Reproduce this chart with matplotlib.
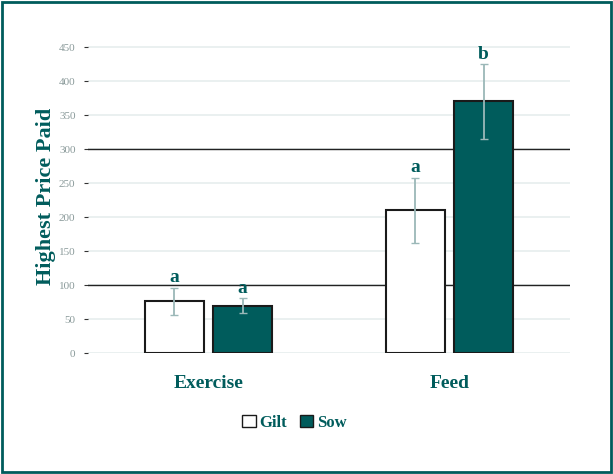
import matplotlib
matplotlib.use("Agg")
from matplotlib import pyplot as plt
from matplotlib.patches import Rectangle

groups = ["Exercise", "Feed"]
gilt = [76, 210]
sow = [70, 370]
gilt_err = [20, 48]
sow_err = [11, 55]
gilt_letters = ["a", "a"]
sow_letters = ["a", "b"]
yticks = [0, 50, 100, 150, 200, 250, 300, 350, 400, 450]

teal = "#005c5c"
plt.rcParams['font.family'] = ['Liberation Serif', 'DejaVu Serif']

fig = plt.figure(figsize=(6.13, 4.74), dpi=100)
fig.patches.append(Rectangle((0.003, 0.004), 0.994, 0.992, transform=fig.transFigure,
                             fill=False, edgecolor=teal, lw=2))
ax = fig.add_axes([0.1436, 0.255, 0.786, 0.66])

x = range(len(groups))
w = 0.245
off = 0.142
for i in x:
    ax.bar(i - off, gilt[i], w, color="white", edgecolor="#1a1a1a", lw=1.5, zorder=3)
    ax.bar(i + off, sow[i], w, color=teal, edgecolor="#1a1a1a", lw=1.5, zorder=3)
    ax.errorbar(i - off, gilt[i], yerr=gilt_err[i], color="#9bb8b8", capsize=3, lw=1.3, zorder=4)
    ax.errorbar(i + off, sow[i], yerr=sow_err[i], color="#9bb8b8", capsize=3, lw=1.3, zorder=4)
    ax.text(i - off, gilt[i] + gilt_err[i] + 2, gilt_letters[i], ha="center", va="bottom",
            color=teal, fontsize=14, fontweight="bold", zorder=5)
    ax.text(i + off, sow[i] + sow_err[i] + 2, sow_letters[i], ha="center", va="bottom",
            color=teal, fontsize=14, fontweight="bold", zorder=5)

ax.set_xlim(-0.5, 1.5)
ax.set_ylim(0, 460)
ax.set_yticks(yticks)
ax.set_yticklabels([str(t) for t in yticks], color="#8a9a9a", fontsize=8)
ax.set_xticks(list(x))
ax.set_xticklabels(groups, color=teal, fontsize=14, fontweight="bold")
ax.tick_params(axis="x", length=0, pad=16)
ax.tick_params(axis="y", length=3, color="#333333", pad=6)
for t in yticks:
    ax.axhline(t, color="#e6eded", lw=1.2, zorder=1)
ax.axhline(100, color="#222222", lw=1, zorder=2)
ax.axhline(300, color="#222222", lw=1, zorder=2)
for s in ax.spines.values():
    s.set_visible(False)
ax.set_ylabel("Highest Price Paid", color=teal, fontsize=16, fontweight="bold", labelpad=2)

handles = [Rectangle((0, 0), 1, 1, facecolor="white", edgecolor="#1a1a1a"),
           Rectangle((0, 0), 1, 1, facecolor=teal, edgecolor="#1a1a1a")]
leg = fig.legend(handles, ["Gilt", "Sow"], loc="center", bbox_to_anchor=(0.48, 0.108), ncol=2,
                 frameon=False, handlelength=0.8, handleheight=0.8, handletextpad=0.2,
                 columnspacing=0.8, prop={"size": 12, "weight": "bold"})
for t in leg.get_texts():
    t.set_color(teal)

fig.savefig("out.png", dpi=100)
